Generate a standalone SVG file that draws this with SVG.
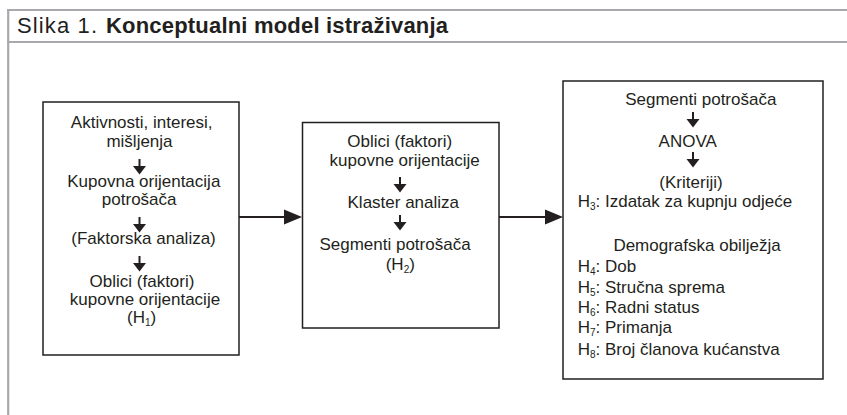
<svg xmlns="http://www.w3.org/2000/svg" xmlns:xlink="http://www.w3.org/1999/xlink" width="847" height="415" viewBox="0 0 847 415">
<style>
text{font-family:"Liberation Sans",Arial,sans-serif;fill:#231f20;}
.t{font-size:17px;}
.c{text-anchor:middle;}
.sub{font-size:10px;}
.box{fill:#fff;stroke:#231f20;stroke-width:1.5;}
.frame{stroke:#a7a9ac;stroke-width:2.2;fill:none;}
.conn{stroke:#231f20;stroke-width:2.2;fill:none;}
.title{font-size:22px;}
</style>
<defs>
<marker id="ah" markerUnits="userSpaceOnUse" markerWidth="19" markerHeight="16" refX="0" refY="8" orient="auto">
<path d="M0,0.5 L18,8 L0,15.5 z" fill="#231f20"/>
</marker>
<g id="down">
<line x1="0" y1="0" x2="0" y2="8" stroke="#231f20" stroke-width="2"/>
<path d="M-6.5,7 L6.5,7 L0,15.5 z" fill="#231f20"/>
</g>
</defs>
<rect width="847" height="415" fill="#fff"/>
<g id="frame">
<line class="frame" x1="7" y1="10" x2="847" y2="10"/>
<line class="frame" x1="7" y1="42" x2="847" y2="42"/>
<line class="frame" x1="8.2" y1="9" x2="8.2" y2="415"/>
<text class="title" x="17" y="33" textLength="80">Slika 1.</text>
<text class="title" x="106" y="33" font-weight="bold" textLength="342">Konceptualni model istraživanja</text>
</g>
<g id="connectors">
<line class="conn" x1="239" y1="217" x2="284" y2="217" marker-end="url(#ah)"/>
<line class="conn" x1="499" y1="217" x2="545" y2="217" marker-end="url(#ah)"/>
</g>
<g id="node1">
<rect class="box" x="43" y="102" width="196" height="253"/>
<text class="t c" x="141.7" y="128.3">Aktivnosti, interesi,</text>
<text class="t c" x="139.5" y="146.7">mišljenja</text>
<use xlink:href="#down" x="139.5" y="159"/>
<text class="t c" x="143.8" y="186.7">Kupovna orijentacija</text>
<text class="t c" x="139.2" y="205">potrošača</text>
<use xlink:href="#down" x="139.5" y="217"/>
<text class="t c" x="143.5" y="244">(Faktorska analiza)</text>
<use xlink:href="#down" x="139.5" y="256"/>
<text class="t c" x="142" y="286.7">Oblici (faktori)</text>
<text class="t c" x="145" y="305">kupovne orijentacije</text>
<text class="t c" x="141.7" y="322.7">(H<tspan class="sub" dy="3">1</tspan><tspan dy="-3">)</tspan></text>
</g>
<g id="node2">
<rect class="box" x="302.5" y="122.5" width="196.5" height="205.5"/>
<text class="t c" x="399.7" y="146.7">Oblici (faktori)</text>
<text class="t c" x="404.7" y="166">kupovne orijentacije</text>
<use xlink:href="#down" x="400" y="177"/>
<text class="t c" x="403.3" y="208.3">Klaster analiza</text>
<use xlink:href="#down" x="400" y="215"/>
<text class="t c" x="395" y="250">Segmenti potrošača</text>
<text class="t c" x="400.3" y="270">(H<tspan class="sub" dy="3">2</tspan><tspan dy="-3">)</tspan></text>
</g>
<g id="node3">
<rect class="box" x="563" y="81" width="260" height="298"/>
<text class="t c" x="700.8" y="105">Segmenti potrošača</text>
<use xlink:href="#down" x="693" y="112"/>
<text class="t c" x="687.7" y="146.7">ANOVA</text>
<use xlink:href="#down" x="693" y="152"/>
<text class="t c" x="691" y="188.3">(Kriteriji)</text>
<text class="t" x="577.7" y="206.7">H<tspan class="sub" dy="3">3</tspan><tspan dy="-3">: Izdatak za kupnju odjeće</tspan></text>
<text class="t c" x="697" y="251">Demografska obilježja</text>
<text class="t" x="577.7" y="272.3">H<tspan class="sub" dy="3">4</tspan><tspan dy="-3">: Dob</tspan></text>
<text class="t" x="577.7" y="292.7">H<tspan class="sub" dy="3">5</tspan><tspan dy="-3">: Stručna sprema</tspan></text>
<text class="t" x="577.7" y="313.3">H<tspan class="sub" dy="3">6</tspan><tspan dy="-3">: Radni status</tspan></text>
<text class="t" x="577.7" y="333.3">H<tspan class="sub" dy="3">7</tspan><tspan dy="-3">: Primanja</tspan></text>
<text class="t" x="577.7" y="355">H<tspan class="sub" dy="3">8</tspan><tspan dy="-3">: Broj članova kućanstva</tspan></text>
</g>
</svg>
